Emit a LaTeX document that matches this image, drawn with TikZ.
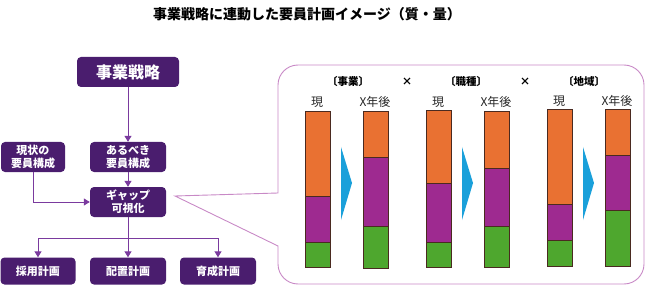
\documentclass[tikz,border=0pt]{standalone}
\usepackage{fontspec}
\setmainfont{Noto Sans CJK JP}
\usetikzlibrary{arrows.meta}
\definecolor{boxfill}{HTML}{4A1D6E}
\definecolor{conn}{HTML}{7A3A9E}
\definecolor{callout}{HTML}{C889C6}
\definecolor{barO}{HTML}{E97132}
\definecolor{barP}{HTML}{9E2A90}
\definecolor{barG}{HTML}{4EA72E}
\definecolor{barE}{HTML}{4A2A20}
\definecolor{chev}{HTML}{1AA0DA}
\tikzset{
  pbox/.style={fill=boxfill, rounded corners=4pt, text=white, font=\bfseries\fontsize{11}{13}\selectfont, align=center, inner sep=0pt},
  link/.style={draw=conn, line width=1pt, -{Triangle[length=6pt,width=7pt]}},
  plain/.style={draw=conn, line width=1pt},
  hdr/.style={font=\bfseries\fontsize{10.5}{13}\selectfont, text=black},
  lab/.style={font=\fontsize{12}{14}\selectfont, text=black!85},
  seg/.style={draw=barE, line width=0.6pt},
}
\begin{document}
\begin{tikzpicture}[x=1pt,y=-1pt]
\useasboundingbox (0,0) rectangle (645,286);
\node[font=\bfseries\fontsize{14}{16}\selectfont] (title) at (307,14) {事業戦略に連動した要員計画イメージ（質・量）};

% left flow
\node[pbox, minimum width=102pt, minimum height=30pt, font=\bfseries\fontsize{16}{18}\selectfont] (strat) at (128,72) {事業戦略};
\node[pbox, minimum width=64pt, minimum height=30pt] (cur) at (33,157) {現状の\\要員構成};
\node[pbox, minimum width=76pt, minimum height=30pt] (ideal) at (128,157) {あるべき\\要員構成};
\node[pbox, minimum width=76pt, minimum height=30pt] (gap) at (128,202) {ギャップ\\可視化};
\node[pbox, minimum width=75pt, minimum height=27pt] (hire) at (38,271) {採用計画};
\node[pbox, minimum width=76pt, minimum height=27pt] (place) at (128,271) {配置計画};
\node[pbox, minimum width=76pt, minimum height=27pt] (dev) at (218,271) {育成計画};

\draw[link] (strat) -- (ideal);
\draw[link] (ideal) -- (gap);
\draw[link] (cur.south) |- (gap.west);
\coordinate (split) at (128,238);
\draw[plain] (gap.south) -- (split);
\draw[plain] (hire.north |- split) -- (dev.north |- split);
\draw[link] (hire.north |- split) -- (hire.north);
\draw[link] (split) -- (place.north);
\draw[link] (dev.north |- split) -- (dev.north);

% callout
\coordinate (tip) at (175,196);
\draw[callout, line width=0.9pt]
  (tip) -- (278,193) -- (278,85) arc[start angle=180,end angle=270,radius=20] -- (624,65)
  arc[start angle=-90,end angle=0,radius=20] -- (644,264)
  arc[start angle=0,end angle=90,radius=20] -- (298,284)
  arc[start angle=90,end angle=180,radius=20] -- (278,246) -- cycle;

% headers
\node[hdr] (h1) at (348,82) {〔事業〕};
\node[hdr] (x1) at (407,82) {×};
\node[hdr] (h2) at (466,82) {〔職種〕};
\node[hdr] (x2) at (525,82) {×};
\node[hdr] (h3) at (584,82) {〔地域〕};

% bars: x-left, top, orange-bottom, purple-bottom, bottom
\foreach \xl/\t/\o/\p/\b in {305/111/196/242/267, 363/111/157/226/268, 426/110/183/242/267, 484/111/168/226/267, 547/109/204/240/266, 605/109/155/210/266}{
  \fill[barO] (\xl,\t) rectangle ++(25,\o-\t);
  \fill[barP] (\xl,\o) rectangle ++(25,\p-\o);
  \fill[barG] (\xl,\p) rectangle ++(25,\b-\p);
  \draw[seg] (\xl,\t) rectangle ++(25,\b-\t);
  \draw[seg] (\xl,\o) -- ++(25,0);
  \draw[seg] (\xl,\p) -- ++(25,0);
}
\node[lab] (n1) at (317,102) {現};
\node[lab] (f1) at (375,102) {X年後};
\node[lab] (n2) at (438,102) {現};
\node[lab] (f2) at (496,102) {X年後};
\node[lab] (n3) at (559,101) {現};
\node[lab] (f3) at (617,101) {X年後};

% chevrons
\foreach \xa in {341,462,583}{
  \fill[chev] (\xa,147) -- (\xa+11,183) -- (\xa,220) -- cycle;
}
\end{tikzpicture}
\end{document}
